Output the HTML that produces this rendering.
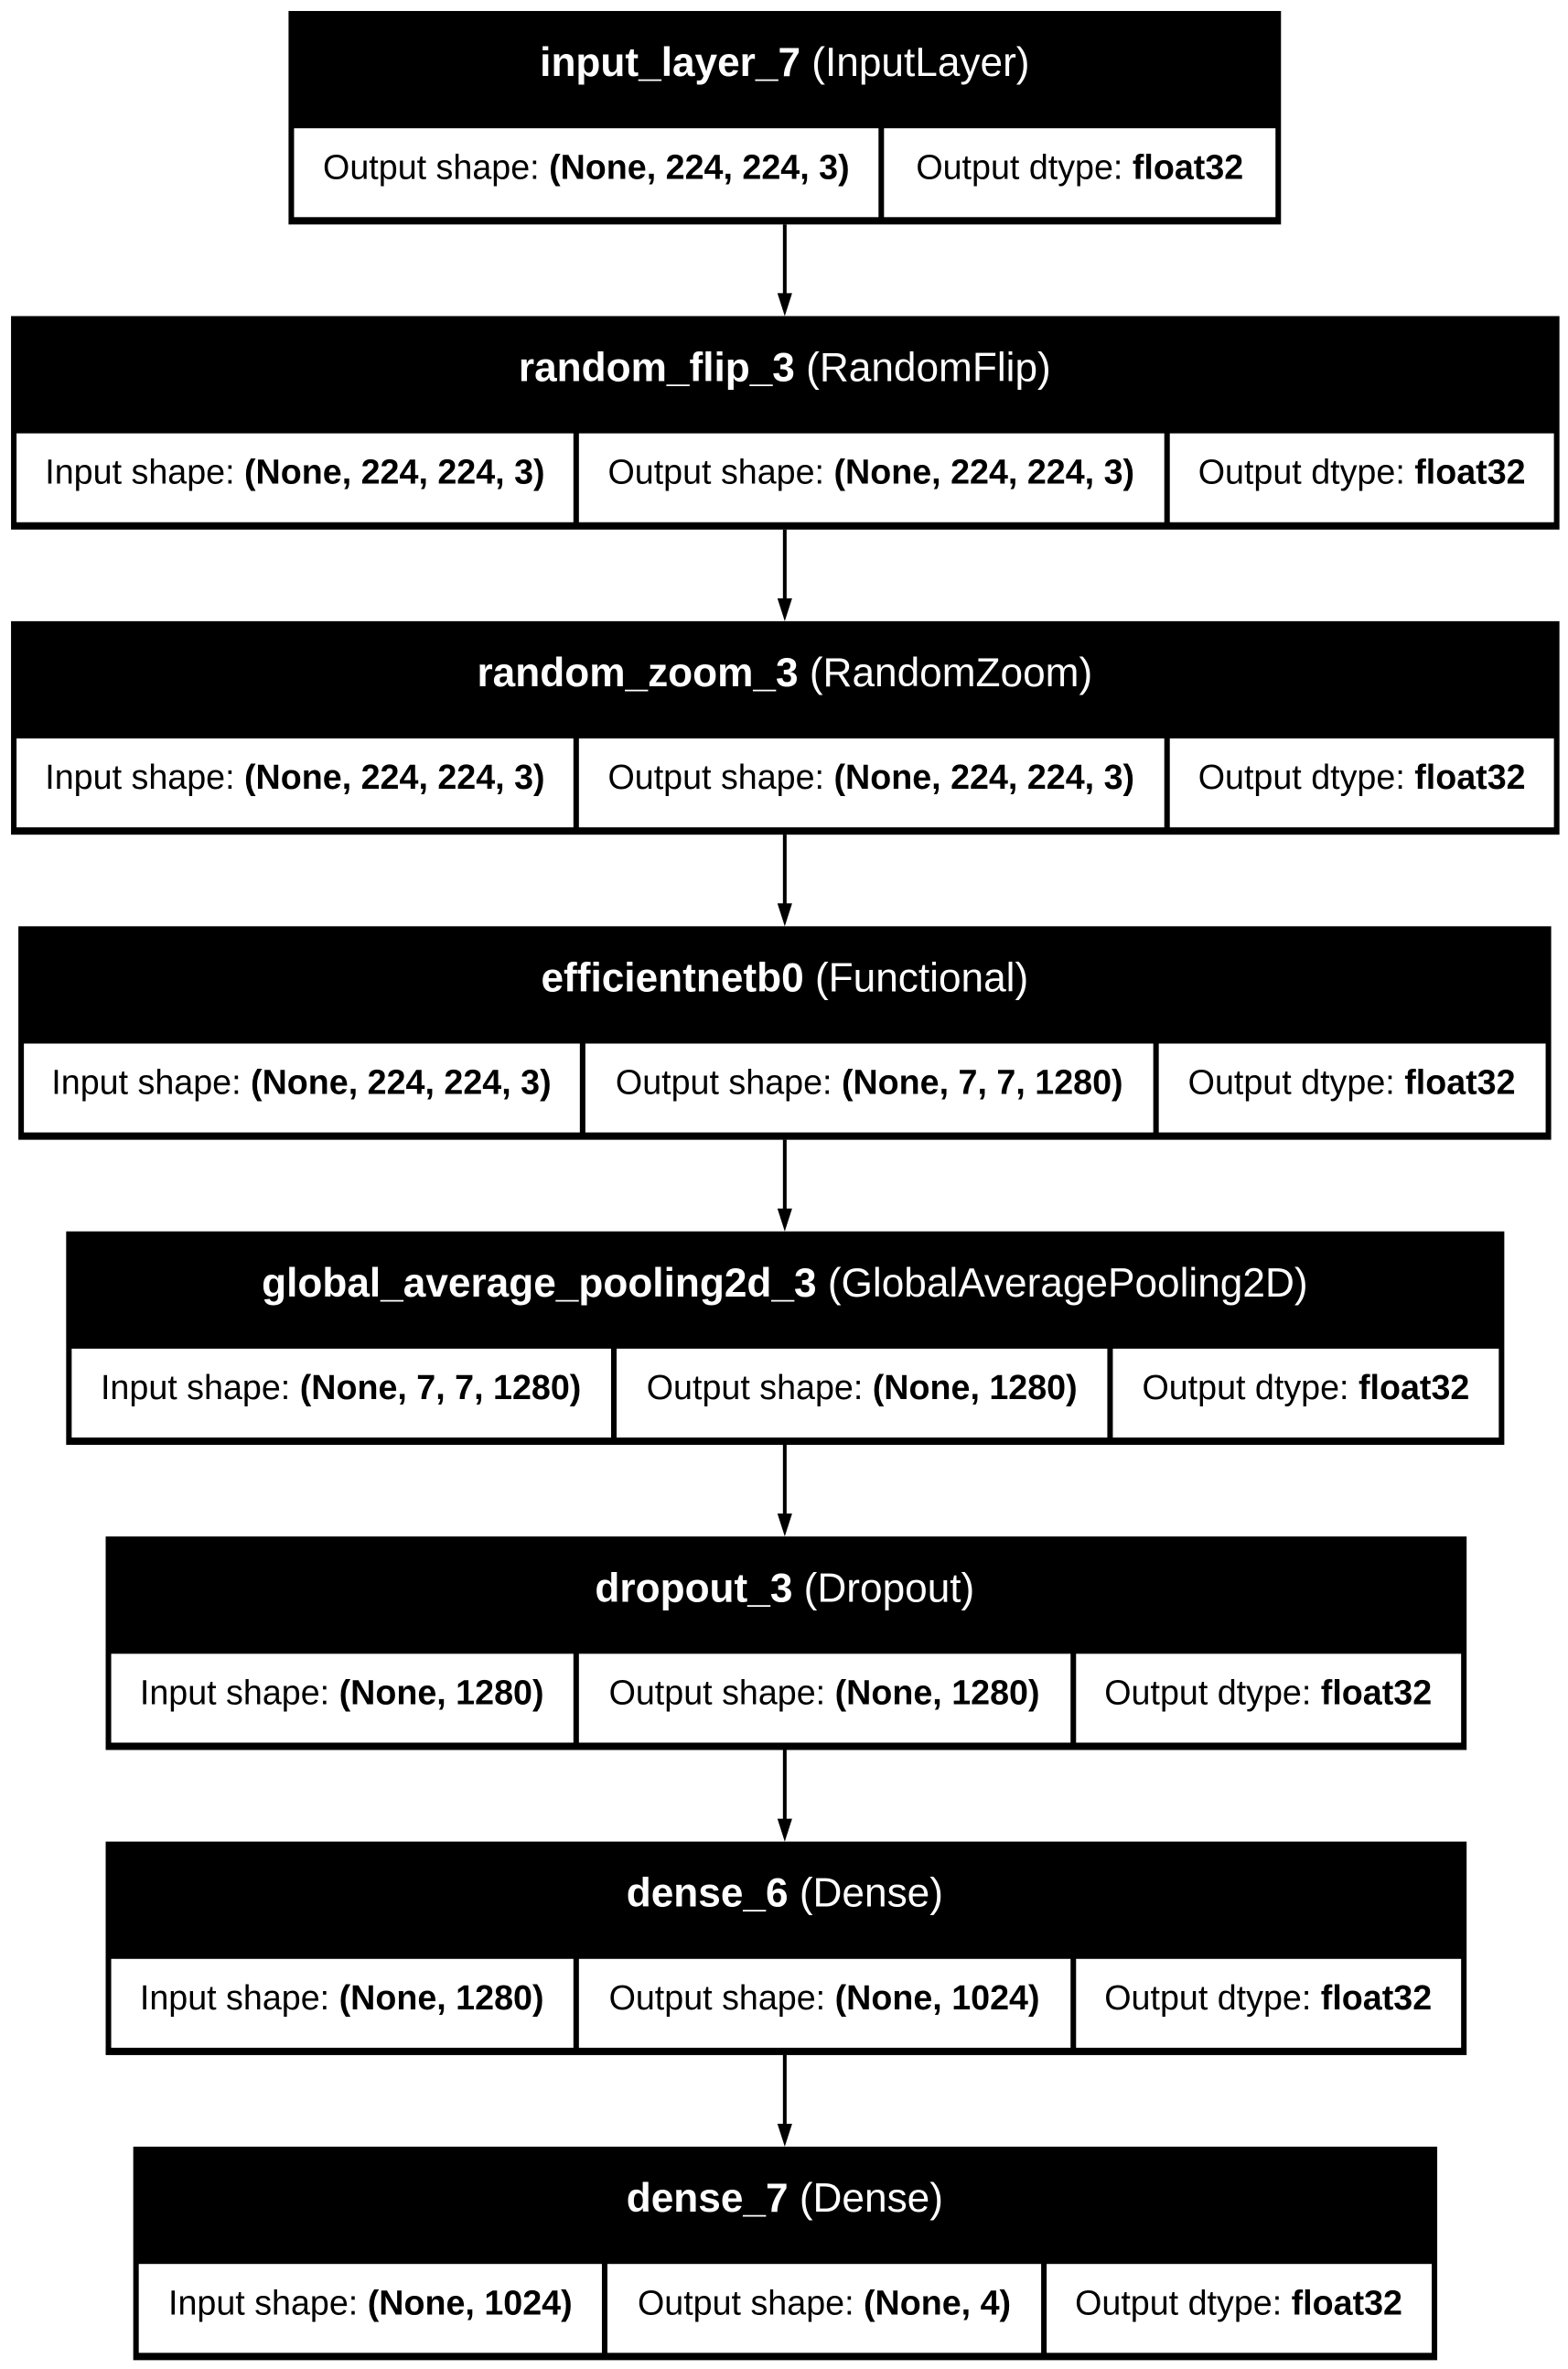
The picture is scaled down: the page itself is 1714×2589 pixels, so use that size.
<!DOCTYPE html>
<html><head><meta charset="utf-8"><style>
html,body{margin:0;padding:0;background:#fff}
svg{display:block}
text{font-family:"Liberation Sans",Arial,sans-serif}
.h{font-size:44px;fill:#fff;text-anchor:middle}
.c{font-size:37.5px;fill:#000;text-anchor:middle}
</style></head><body>
<svg width="1714" height="2589" viewBox="0 0 1714 2589" xmlns="http://www.w3.org/2000/svg">
<g transform="scale(1.0045,1.0013)">
<g stroke="#000" stroke-width="4">
<line x1="854" y1="245" x2="854" y2="322"/>
<line x1="854" y1="578" x2="854" y2="655"/>
<line x1="854" y1="911" x2="854" y2="988"/>
<line x1="854" y1="1244" x2="854" y2="1321"/>
<line x1="854" y1="1577" x2="854" y2="1654"/>
<line x1="854" y1="1910" x2="854" y2="1987"/>
<line x1="854" y1="2243" x2="854" y2="2320"/>
</g>
<g fill="#000">
<polygon points="846,320 862,320 854,345"/>
<polygon points="846,653 862,653 854,678"/>
<polygon points="846,986 862,986 854,1011"/>
<polygon points="846,1319 862,1319 854,1344"/>
<polygon points="846,1652 862,1652 854,1677"/>
<polygon points="846,1985 862,1985 854,2010"/>
<polygon points="846,2318 862,2318 854,2343"/>
</g>

<rect x="314" y="12" width="1080" height="233" fill="#000"/>
<rect x="320" y="140" width="636" height="97" fill="#fff"/>
<rect x="962" y="140" width="426" height="97" fill="#fff"/>
<text class="h" x="854" y="83"><tspan font-weight="bold">input_layer_7</tspan> (InputLayer)</text>
<text class="c" x="638" y="195">Output shape: <tspan font-weight="bold">(None, 224, 224, 3)</tspan></text>
<text class="c" x="1175" y="195">Output dtype: <tspan font-weight="bold">float32</tspan></text>

<rect x="12" y="345" width="1685" height="233" fill="#000"/>
<rect x="18" y="473" width="606" height="97" fill="#fff"/>
<rect x="630" y="473" width="637" height="97" fill="#fff"/>
<rect x="1273" y="473" width="418" height="97" fill="#fff"/>
<text class="h" x="854" y="416"><tspan font-weight="bold">random_flip_3</tspan> (RandomFlip)</text>
<text class="c" x="321" y="528">Input shape: <tspan font-weight="bold">(None, 224, 224, 3)</tspan></text>
<text class="c" x="948" y="528">Output shape: <tspan font-weight="bold">(None, 224, 224, 3)</tspan></text>
<text class="c" x="1482" y="528">Output dtype: <tspan font-weight="bold">float32</tspan></text>

<rect x="12" y="678" width="1685" height="233" fill="#000"/>
<rect x="18" y="806" width="606" height="97" fill="#fff"/>
<rect x="630" y="806" width="637" height="97" fill="#fff"/>
<rect x="1273" y="806" width="418" height="97" fill="#fff"/>
<text class="h" x="854" y="749"><tspan font-weight="bold">random_zoom_3</tspan> (RandomZoom)</text>
<text class="c" x="321" y="861">Input shape: <tspan font-weight="bold">(None, 224, 224, 3)</tspan></text>
<text class="c" x="948" y="861">Output shape: <tspan font-weight="bold">(None, 224, 224, 3)</tspan></text>
<text class="c" x="1482" y="861">Output dtype: <tspan font-weight="bold">float32</tspan></text>

<rect x="20" y="1011" width="1668" height="233" fill="#000"/>
<rect x="26" y="1139" width="605" height="97" fill="#fff"/>
<rect x="637" y="1139" width="618" height="97" fill="#fff"/>
<rect x="1261" y="1139" width="421" height="97" fill="#fff"/>
<text class="h" x="854" y="1082"><tspan font-weight="bold">efficientnetb0</tspan> (Functional)</text>
<text class="c" x="328" y="1194">Input shape: <tspan font-weight="bold">(None, 224, 224, 3)</tspan></text>
<text class="c" x="946" y="1194">Output shape: <tspan font-weight="bold">(None, 7, 7, 1280)</tspan></text>
<text class="c" x="1471" y="1194">Output dtype: <tspan font-weight="bold">float32</tspan></text>

<rect x="72" y="1344" width="1565" height="233" fill="#000"/>
<rect x="78" y="1472" width="587" height="97" fill="#fff"/>
<rect x="671" y="1472" width="534" height="97" fill="#fff"/>
<rect x="1211" y="1472" width="420" height="97" fill="#fff"/>
<text class="h" x="854" y="1415"><tspan font-weight="bold">global_average_pooling2d_3</tspan> (GlobalAveragePooling2D)</text>
<text class="c" x="371" y="1527">Input shape: <tspan font-weight="bold">(None, 7, 7, 1280)</tspan></text>
<text class="c" x="938" y="1527">Output shape: <tspan font-weight="bold">(None, 1280)</tspan></text>
<text class="c" x="1421" y="1527">Output dtype: <tspan font-weight="bold">float32</tspan></text>

<rect x="115" y="1677" width="1481" height="233" fill="#000"/>
<rect x="121" y="1805" width="503" height="97" fill="#fff"/>
<rect x="630" y="1805" width="535" height="97" fill="#fff"/>
<rect x="1171" y="1805" width="419" height="97" fill="#fff"/>
<text class="h" x="854" y="1748"><tspan font-weight="bold">dropout_3</tspan> (Dropout)</text>
<text class="c" x="372" y="1860">Input shape: <tspan font-weight="bold">(None, 1280)</tspan></text>
<text class="c" x="897" y="1860">Output shape: <tspan font-weight="bold">(None, 1280)</tspan></text>
<text class="c" x="1380" y="1860">Output dtype: <tspan font-weight="bold">float32</tspan></text>

<rect x="115" y="2010" width="1481" height="233" fill="#000"/>
<rect x="121" y="2138" width="503" height="97" fill="#fff"/>
<rect x="630" y="2138" width="535" height="97" fill="#fff"/>
<rect x="1171" y="2138" width="419" height="97" fill="#fff"/>
<text class="h" x="854" y="2081"><tspan font-weight="bold">dense_6</tspan> (Dense)</text>
<text class="c" x="372" y="2193">Input shape: <tspan font-weight="bold">(None, 1280)</tspan></text>
<text class="c" x="897" y="2193">Output shape: <tspan font-weight="bold">(None, 1024)</tspan></text>
<text class="c" x="1380" y="2193">Output dtype: <tspan font-weight="bold">float32</tspan></text>

<rect x="145" y="2343" width="1419" height="233" fill="#000"/>
<rect x="151" y="2471" width="504" height="97" fill="#fff"/>
<rect x="661" y="2471" width="472" height="97" fill="#fff"/>
<rect x="1139" y="2471" width="419" height="97" fill="#fff"/>
<text class="h" x="854" y="2414"><tspan font-weight="bold">dense_7</tspan> (Dense)</text>
<text class="c" x="403" y="2526">Input shape: <tspan font-weight="bold">(None, 1024)</tspan></text>
<text class="c" x="897" y="2526">Output shape: <tspan font-weight="bold">(None, 4)</tspan></text>
<text class="c" x="1348" y="2526">Output dtype: <tspan font-weight="bold">float32</tspan></text>
</g>
</svg>
</body></html>
